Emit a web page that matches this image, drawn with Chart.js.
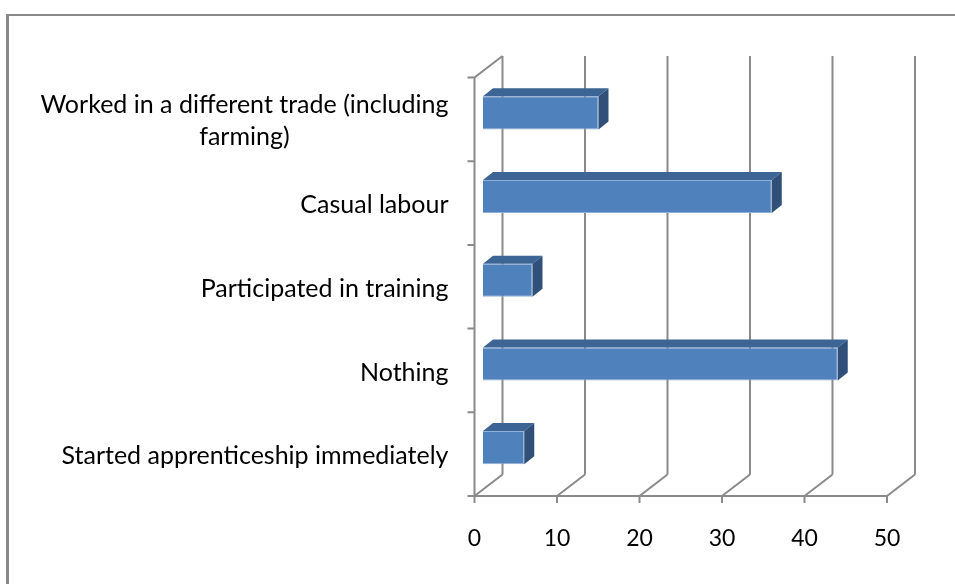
<!DOCTYPE html>
<html>
<head>
<meta charset="utf-8">
<script src="https://cdn.jsdelivr.net/npm/chart.js@4/dist/chart.umd.min.js"></script>
<style>
html, body { margin: 0; padding: 0; background: #fff; }
</style>
</head>
<body>
<canvas id="chart" width="955" height="584"></canvas>
<script>
// data
var categories = [
    ["Worked in a different trade (including", "farming)"],
    "Casual labour",
    "Participated in training",
    "Nothing",
    "Started apprenticeship immediately"
];
var values = [14, 35, 6, 43, 5];
var xTicks = [0, 10, 20, 30, 40, 50];

var FONT = "25px Lato";
var TICK_FONT = "23px Lato";
var GRID = "#8a8a8a";
var depth = { x: 28, y: -21.5 };     // front plane -> back wall
var barShift = { x: 8.5, y: -6.5 };  // bars sit a bit behind the front plane
var barDepth = { x: 10, y: -8 };

var fake3d = {
    id: 'fake3d',
    beforeDraw: function (chart) {
        var ctx = chart.ctx;
        ctx.save();
        ctx.fillStyle = '#fff';
        ctx.fillRect(0, 0, chart.width, chart.height);
        // outer frame, runs off right and bottom
        ctx.strokeStyle = '#888';
        ctx.lineWidth = 3;
        ctx.beginPath();
        ctx.moveTo(7.5, 600);
        ctx.lineTo(7.5, 15);
        ctx.stroke();
        ctx.lineWidth = 2;
        ctx.beginPath();
        ctx.moveTo(6, 15);
        ctx.lineTo(960, 15);
        ctx.stroke();
        ctx.restore();
    },
    beforeDatasetsDraw: function (chart) {
        var ctx = chart.ctx, a = chart.chartArea;
        var xs = chart.scales.x;
        ctx.save();
        ctx.strokeStyle = GRID;
        ctx.lineWidth = 2;
        ctx.beginPath();
        xTicks.forEach(function (t) {
            var px = xs.getPixelForValue(t);
            // back wall gridline
            ctx.moveTo(px + depth.x, a.top + depth.y);
            ctx.lineTo(px + depth.x, a.bottom + depth.y);
            // floor diagonal
            ctx.moveTo(px, a.bottom);
            ctx.lineTo(px + depth.x, a.bottom + depth.y);
            // tick mark
            ctx.moveTo(px, a.bottom);
            ctx.lineTo(px, a.bottom + 7);
        });
        // front axes
        ctx.moveTo(a.left + depth.x, a.top + depth.y);
        ctx.lineTo(a.left, a.top);
        ctx.lineTo(a.left, a.bottom);
        ctx.lineTo(xs.getPixelForValue(50), a.bottom);
        // category ticks
        var n = categories.length, step = (a.bottom - a.top) / n;
        for (var i = 0; i <= n; i++) {
            var y = a.top + i * step;
            ctx.moveTo(a.left - 7, y);
            ctx.lineTo(a.left, y);
        }
        ctx.stroke();
        ctx.restore();

        ctx.save();
        ctx.translate(barShift.x, barShift.y);
    },
    afterDatasetsDraw: function (chart) {
        var ctx = chart.ctx;
        ctx.restore();
        var meta = chart.getDatasetMeta(0);
        ctx.save();
        ctx.translate(barShift.x, barShift.y);
        meta.data.forEach(function (bar) {
            var p = bar.getProps(['x', 'y', 'base', 'height'], true);
            var L = p.base, R = p.x, T = p.y - p.height / 2, B = p.y + p.height / 2;
            var dx = barDepth.x, dy = barDepth.y;
            ctx.fillStyle = '#3c6494';
            ctx.beginPath();
            ctx.moveTo(L, T);
            ctx.lineTo(R, T);
            ctx.lineTo(R + dx, T + dy);
            ctx.lineTo(L + dx, T + dy);
            ctx.closePath();
            ctx.fill();
            ctx.fillStyle = '#30507a';
            ctx.beginPath();
            ctx.moveTo(R, T);
            ctx.lineTo(R + dx, T + dy);
            ctx.lineTo(R + dx, B + dy);
            ctx.lineTo(R, B);
            ctx.closePath();
            ctx.fill();
        });
        ctx.restore();
    },
    afterDraw: function (chart) {
        var ctx = chart.ctx, a = chart.chartArea;
        var xs = chart.scales.x, ys = chart.scales.y;
        ctx.save();
        ctx.fillStyle = '#000';
        ctx.font = FONT;
        ctx.textBaseline = 'middle';
        // category labels: block right aligned, lines centred in the block
        categories.forEach(function (lab, i) {
            var lines = Array.isArray(lab) ? lab : [lab];
            var cy = ys.getPixelForValue(i) + 2;
            var w = 0;
            lines.forEach(function (s) { w = Math.max(w, ctx.measureText(s).width); });
            var right = a.left - 26;
            ctx.textAlign = 'center';
            lines.forEach(function (s, k) {
                var y = cy + (k - (lines.length - 1) / 2) * 32;
                ctx.fillText(s, right - w / 2, y);
            });
        });
        ctx.font = TICK_FONT;
        ctx.textAlign = 'center';
        xTicks.forEach(function (t) {
            ctx.fillText(String(t), xs.getPixelForValue(t), 539);
        });
        ctx.restore();
    }
};

new Chart(document.getElementById('chart'), {
    type: 'bar',
    data: {
        labels: categories,
        datasets: [{
            data: values,
            backgroundColor: '#4f81bd',
            borderColor: '#8fb0d8',
            borderWidth: 1,
            barPercentage: 0.395,
            categoryPercentage: 1
        }]
    },
    options: {
        indexAxis: 'y',
        responsive: false,
        devicePixelRatio: 1,
        animation: false,
        layout: { padding: { left: 474.5, top: 77.5, right: 68, bottom: 88 } },
        plugins: { legend: { display: false }, tooltip: { enabled: false } },
        scales: {
            x: { display: false, min: 0, max: 50 },
            y: { display: false }
        }
    },
    plugins: [fake3d]
});
</script>
</body>
</html>
